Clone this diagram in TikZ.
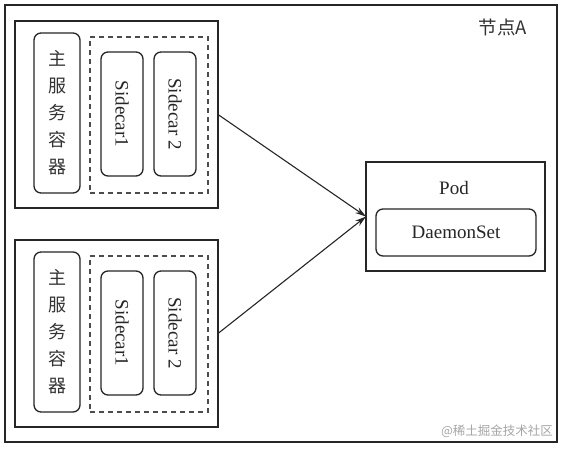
\documentclass[tikz,border=0pt]{standalone}
\usepackage{fontspec}
\setmainfont{Liberation Serif}
\newfontfamily\cjk{Noto Sans CJK SC}
\usetikzlibrary{arrows.meta}
\tikzset{
  rbox/.style={draw=black!85, line width=1.3pt, inner sep=0pt, outer sep=0pt, anchor=north west},
  rnd/.style={rbox, rounded corners=7pt},
  dbox/.style={draw=black!70, line width=1.1pt, dash pattern=on 5pt off 4pt, inner sep=0pt, outer sep=0pt, anchor=north west},
  lbl/.style={font=\fontsize{19}{22}\selectfont, inner sep=0pt, text=black!85},
  vlbl/.style={lbl, rotate=-90},
  cjklbl/.style={font=\cjk\fontsize{18}{27}\selectfont, align=center, inner sep=0pt, text=black!80},
  arr/.style={draw=black!85, line width=1.1pt, -{Stealth[length=11pt,width=6.5pt]}}
}
\begin{document}
\begin{tikzpicture}[x=1pt,y=-1pt]
\useasboundingbox (0,0) rectangle (564,449);
\fill[white] (0,0) rectangle (564,449);
% outer frame
\node[rbox, line width=1.6pt, minimum width=552pt, minimum height=437pt] (frame) at (5,5) {};
\node[cjklbl, font=\cjk\fontsize{18.5}{20}\selectfont] (nodeA) at (503,27) {节点A};
% top group
\node[rbox, minimum width=203pt, minimum height=187pt] (g1) at (15,21) {};
\node[rnd, minimum width=46pt, minimum height=160pt] (m1) at (34,33) {};
\node[cjklbl] (m1t) at (m1.center) {主\\服\\务\\容\\器};
\node[dbox, minimum width=118pt, minimum height=156pt] (d1) at (90,37) {};
\node[rnd, minimum width=42pt, minimum height=124pt] (s11) at (101,52) {};
\node[vlbl] (s11t) at (s11.center) {Sidecar1};
\node[rnd, minimum width=42pt, minimum height=124pt] (s12) at (154,52) {};
\node[vlbl] (s12t) at (s12.center) {Sidecar 2};
% bottom group
\node[rbox, minimum width=203pt, minimum height=187pt] (g2) at (15,240) {};
\node[rnd, minimum width=46pt, minimum height=160pt] (m2) at (34,252) {};
\node[cjklbl] (m2t) at (m2.center) {主\\服\\务\\容\\器};
\node[dbox, minimum width=118pt, minimum height=156pt] (d2) at (90,256) {};
\node[rnd, minimum width=42pt, minimum height=124pt] (s21) at (101,271) {};
\node[vlbl] (s21t) at (s21.center) {Sidecar1};
\node[rnd, minimum width=42pt, minimum height=124pt] (s22) at (154,271) {};
\node[vlbl] (s22t) at (s22.center) {Sidecar 2};
% pod
\node[rbox, minimum width=179pt, minimum height=109pt] (pod) at (366,162) {};
\node[lbl] (podt) at (454,188) {Pod};
\node[rnd, minimum width=160pt, minimum height=47pt] (ds) at (376,209) {};
\node[lbl] (dst) at (ds.center) {DaemonSet};
% arrows
\draw[arr] (g1.east) -- (pod.west);
\draw[arr] (g2.east) -- (pod.west);
% watermark
\node[font=\cjk\fontsize{12.5}{14}\selectfont, text=black!35, inner sep=0pt] (wm) at (497,431) {@稀土掘金技术社区};
\end{tikzpicture}
\end{document}
